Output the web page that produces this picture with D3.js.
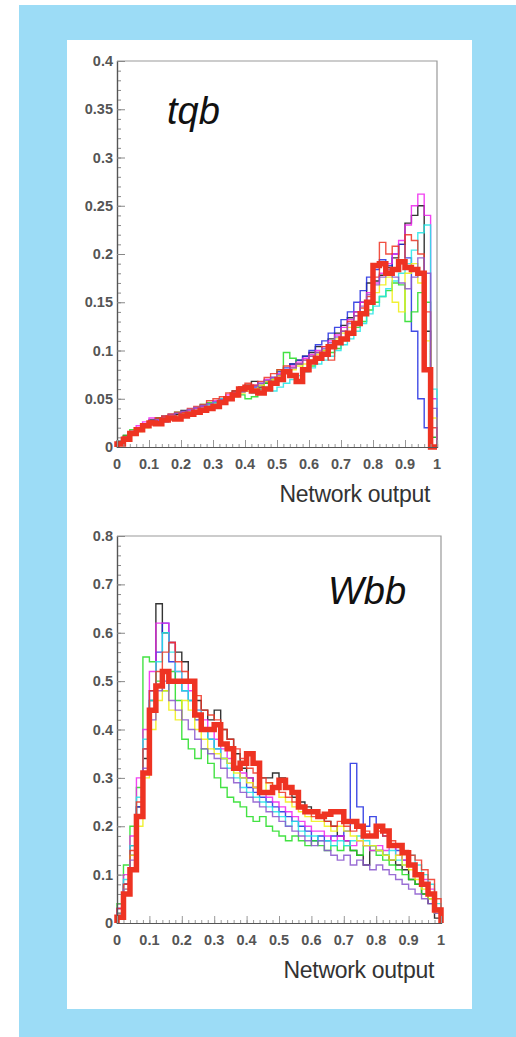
<!DOCTYPE html>
<html>
<head>
<meta charset="utf-8">
<script src="https://cdnjs.cloudflare.com/ajax/libs/d3/7.8.5/d3.min.js"></script>
<style>
  html, body { margin: 0; padding: 0; background: #fff; }
  svg { display: block; }
</style>
</head>
<body>
<svg id="chart"></svg>
<script>
// bin width 0.02, 50 bins from 0 to 1
const binEdges = d3.range(0, 50).map(i => i * 0.02);

const xTickLabels = ["0", "0.1", "0.2", "0.3", "0.4", "0.5", "0.6", "0.7", "0.8", "0.9", "1"];
const tqbYTickLabels = ["0", "0.05", "0.1", "0.15", "0.2", "0.25", "0.3", "0.35", "0.4"];
const wbbYTickLabels = ["0", "0.1", "0.2", "0.3", "0.4", "0.5", "0.6", "0.7", "0.8"];

const thinColors = ["#111111", "#1f2be0", "#22dd22", "#ee22ee", "#22e6e6", "#eeee10", "#ee3322", "#8855cc"];

// tqb: thin histograms (one per training) and the thick average
const tqbThin = [
  [.006,.012,.016,.020,.024, .028,.030,.032,.030,.034, .038,.036,.040,.042,.044, .046,.050,.052,.058,.062, .064,.068,.062,.066,.070, .074,.080,.086,.090,.094, .098,.104,.100,.112,.118, .126,.134,.140,.150,.170, .172,.178,.186,.196,.210, .232,.240,.250,.120,.010],
  [.004,.010,.014,.018,.022, .026,.028,.026,.030,.032, .034,.036,.038,.040,.042, .046,.048,.052,.056,.058, .060,.062,.064,.068,.072, .078,.082,.086,.090,.094, .100,.106,.110,.118,.124, .132,.140,.150,.162,.176, .184,.194,.188,.200,.210, .196,.120,.050,.020,.000],
  [.005,.012,.018,.020,.024, .026,.030,.032,.034,.036, .034,.038,.040,.044,.046, .044,.048,.052,.056,.054, .050,.052,.060,.066,.070, .080,.098,.092,.086,.082, .084,.090,.094,.098,.102, .110,.118,.124,.130,.142, .150,.156,.162,.170,.168, .130,.140,.160,.150,.010],
  [.004,.010,.016,.022,.026, .030,.028,.032,.034,.032, .036,.038,.040,.042,.044, .048,.050,.054,.056,.060, .058,.064,.066,.070,.072, .076,.080,.084,.088,.092, .096,.100,.104,.110,.116, .124,.132,.140,.150,.160, .170,.180,.190,.200,.214, .230,.250,.262,.240,.050],
  [.004,.010,.014,.018,.022, .024,.026,.030,.032,.030, .034,.036,.038,.040,.044, .046,.050,.052,.054,.058, .060,.056,.060,.062,.058, .062,.066,.070,.074,.078, .082,.086,.090,.094,.100, .106,.112,.120,.128,.138, .146,.156,.164,.172,.180, .190,.204,.222,.230,.060],
  [.003,.008,.012,.016,.020, .024,.026,.028,.030,.032, .034,.036,.038,.040,.042, .044,.048,.050,.052,.056, .058,.060,.064,.068,.070, .074,.078,.080,.084,.086, .090,.096,.100,.106,.112, .118,.124,.130,.140,.150, .160,.168,.176,.150,.140, .180,.190,.170,.110,.030],
  [.005,.011,.016,.020,.024, .027,.030,.032,.034,.036, .036,.040,.042,.044,.048, .050,.052,.056,.058,.062, .066,.064,.068,.072,.076, .080,.084,.082,.086,.090, .094,.098,.104,.090,.110, .120,.130,.136,.144,.156, .176,.212,.200,.208,.190, .220,.214,.200,.140,.020],
  [.004,.010,.015,.019,.023, .026,.028,.030,.033,.035, .037,.039,.041,.043,.045, .047,.049,.052,.055,.057, .060,.063,.066,.069,.072, .075,.078,.082,.086,.090, .094,.098,.102,.108,.114, .120,.128,.136,.146,.158, .168,.176,.184,.176,.170, .164,.176,.196,.180,.040]
];
const tqbMean = [.003,.008,.014,.018,.022, .025,.024,.028,.030,.029, .032,.034,.036,.038,.040, .042,.046,.050,.054,.060, .062,.058,.056,.060,.066, .070,.078,.074,.068,.080, .088,.092,.096,.104,.108, .112,.118,.128,.138,.150, .188,.190,.180,.184,.192, .186,.184,.180,.080,.000];

// Wbb
const wbbThin = [
  [.02,.08,.16,.24,.34, .46,.66,.60,.58,.56, .54,.50,.46,.44,.42, .44,.40,.38,.35,.32, .30,.28,.30,.30,.31, .30,.28,.26,.25,.24, .23,.22,.21,.20,.18, .17,.15,.14,.12,.16, .15,.14,.13,.12,.11, .09,.08,.06,.04,.01],
  [.03,.08,.14,.24,.36, .48,.56,.62,.54,.50, .48,.46,.42,.40,.38, .36,.34,.33,.32,.30, .28,.27,.26,.25,.24, .23,.22,.21,.20,.19, .17,.18,.17,.18,.18, .19,.33,.24,.20,.22, .20,.18,.16,.15,.13, .12,.10,.08,.06,.03],
  [.04,.12,.20,.28,.55, .54,.50,.48,.52,.46, .38,.36,.34,.36,.33, .30,.28,.26,.25,.24, .22,.21,.22,.20,.19, .18,.17,.18,.17,.16, .17,.16,.15,.16,.15, .16,.15,.14,.16,.15, .14,.13,.12,.11,.10, .09,.08,.06,.05,.02],
  [.03,.10,.18,.30,.40, .52,.62,.62,.58,.52, .50,.48,.44,.42,.40, .38,.36,.34,.32,.31, .30,.28,.27,.26,.25, .24,.23,.22,.21,.20, .19,.19,.18,.17,.18, .17,.16,.17,.16,.15, .16,.15,.16,.14,.13, .12,.10,.09,.07,.03],
  [.02,.09,.16,.26,.38, .46,.54,.60,.56,.52, .48,.46,.44,.40,.38, .36,.34,.32,.30,.28, .27,.26,.25,.24,.23, .22,.20,.21,.19,.18, .18,.17,.17,.16,.17, .16,.17,.18,.17,.16, .15,.14,.15,.13,.12, .14,.12,.10,.08,.04],
  [.02,.07,.14,.20,.30, .40,.46,.48,.44,.42, .46,.44,.40,.38,.36, .35,.34,.33,.31,.30, .29,.28,.27,.29,.28, .26,.25,.24,.23,.22, .21,.21,.20,.19,.20, .19,.18,.17,.16,.16, .15,.14,.13,.14,.12, .11,.09,.07,.05,.02],
  [.03,.08,.15,.25,.36, .48,.52,.56,.58,.54, .52,.50,.47,.44,.43, .42,.40,.38,.36,.34, .32,.31,.30,.29,.28, .27,.26,.25,.24,.23, .22,.22,.21,.20,.21, .20,.19,.20,.19,.18, .19,.18,.17,.16,.15, .14,.13,.11,.09,.05],
  [.02,.07,.13,.22,.32, .42,.48,.50,.46,.44, .42,.40,.38,.36,.35, .34,.32,.30,.29,.27, .26,.25,.24,.23,.22, .21,.20,.19,.18,.17, .16,.17,.15,.14,.13, .14,.12,.13,.12,.11, .12,.11,.10,.09,.08, .07,.06,.05,.04,.02]
];
const wbbMean = [.012,.06,.11,.22,.31, .44,.49,.52,.50,.50, .50,.50,.43,.40,.40, .41,.37,.36,.32,.33, .35,.33,.27,.27,.28, .295,.28,.27,.24,.23, .23,.22,.225,.23,.23, .21,.21,.20,.18,.18, .20,.19,.16,.16,.145, .12,.10,.08,.06,.027];

const W = 516, H = 1037;
const svg = d3.select("#chart").attr("width", W).attr("height", H);

// blue frame with white panel
svg.append("rect").attr("x", 19).attr("y", 5).attr("width", W - 19).attr("height", H - 5).attr("fill", "#9cdcf6");
svg.append("rect").attr("x", 67).attr("y", 40).attr("width", 405).attr("height", 969).attr("fill", "#fff");

function drawPanel(cfg) {
    const x = d3.scaleLinear().domain([0, 1]).range([cfg.left, cfg.right]);
    const y = d3.scaleLinear().domain([0, cfg.yMax]).range([cfg.bottom, cfg.top]);
    const g = svg.append("g");

    // frame (top and right sides)
    g.append("path")
        .attr("d", `M${cfg.left},${cfg.top}H${cfg.right}V${cfg.bottom}`)
        .attr("fill", "none").attr("stroke", "#999").attr("stroke-width", 1.2);

    // step outline of a histogram
    const line = d3.line().x(d => x(d[0])).y(d => y(d[1])).curve(d3.curveStepAfter);
    const pts = vals => [[0, 0]].concat(vals.map((v, i) => [binEdges[i], v])).concat([[1, 0]]);

    cfg.thin.forEach((vals, i) => {
        g.append("path")
            .attr("d", line(pts(vals)))
            .attr("fill", "none")
            .attr("stroke", thinColors[i])
            .attr("stroke-width", 1.4)
            .attr("stroke-opacity", 0.85);
    });
    g.append("path")
        .attr("d", line(pts(cfg.mean)))
        .attr("fill", "none")
        .attr("stroke", "#ee3322")
        .attr("stroke-width", 5.5)
        .attr("stroke-linejoin", "miter");

    // axes, ROOT style ticks pointing inward
    const yMinor = d3.range(0, cfg.yMax + 1e-9, cfg.yMinorStep);
    const yMajor = d3.range(0, cfg.yMax + 1e-9, cfg.yMajorStep);
    const yAxis = g.append("g").attr("transform", `translate(${cfg.left},0)`);
    yAxis.call(d3.axisRight(y).tickValues(yMinor).tickSize(4).tickFormat(""));
    yAxis.append("g").call(d3.axisRight(y).tickValues(yMajor).tickSize(8).tickFormat(""));
    yAxis.selectAll("path.domain").attr("stroke", "#555").attr("stroke-width", 1.2);
    yAxis.selectAll("line").attr("stroke", "#888");

    const xMinor = d3.range(0, 1.0001, 0.02);
    const xMajor = d3.range(0, 1.0001, 0.1);
    const xAxis = g.append("g").attr("transform", `translate(0,${cfg.bottom})`);
    xAxis.call(d3.axisTop(x).tickValues(xMinor).tickSize(3).tickFormat(""));
    xAxis.append("g").call(d3.axisTop(x).tickValues(xMajor).tickSize(7).tickFormat(""));
    xAxis.selectAll("path.domain").attr("stroke", "#555").attr("stroke-width", 1.2);
    xAxis.selectAll("line").attr("stroke", "#999");

    // tick labels
    g.selectAll(".ylab").data(cfg.yLabels).join("text")
        .attr("x", cfg.left - 4)
        .attr("y", (d, i) => y(i * cfg.yMajorStep) + 5)
        .attr("text-anchor", "end")
        .attr("font-family", "Liberation Sans, Arial, sans-serif")
        .attr("font-weight", "bold").attr("font-size", 14.5)
        .attr("fill", "#555")
        .text(d => d);

    g.selectAll(".xlab").data(xTickLabels).join("text")
        .attr("x", (d, i) => x(i / 10))
        .attr("y", cfg.bottom + 22)
        .attr("text-anchor", "middle")
        .attr("font-family", "Liberation Sans, Arial, sans-serif")
        .attr("font-weight", "bold").attr("font-size", 14.5)
        .attr("fill", "#555")
        .text(d => d);

    g.append("text")
        .attr("x", cfg.right - 7)
        .attr("y", cfg.bottom + 55)
        .attr("text-anchor", "end")
        .attr("font-family", "Liberation Sans, Arial, sans-serif")
        .attr("font-size", 23).attr("letter-spacing", -0.3).attr("fill", "#333")
        .text("Network output");

    g.append("text")
        .attr("x", cfg.titleX).attr("y", cfg.titleY)
        .attr("font-family", "Liberation Sans, Arial, sans-serif")
        .attr("font-style", "italic").attr("font-size", 38).attr("fill", "#111")
        .text(cfg.title);
}

drawPanel({ left: 117, right: 437, top: 61, bottom: 447, yMax: 0.4, yMajorStep: 0.05, yMinorStep: 0.01,
    yLabels: tqbYTickLabels, thin: tqbThin, mean: tqbMean, title: "tqb", titleX: 167, titleY: 124 });
drawPanel({ left: 117, right: 441, top: 536, bottom: 923, yMax: 0.8, yMajorStep: 0.1, yMinorStep: 0.02,
    yLabels: wbbYTickLabels, thin: wbbThin, mean: wbbMean, title: "Wbb", titleX: 328, titleY: 604 });
</script>
</body>
</html>
